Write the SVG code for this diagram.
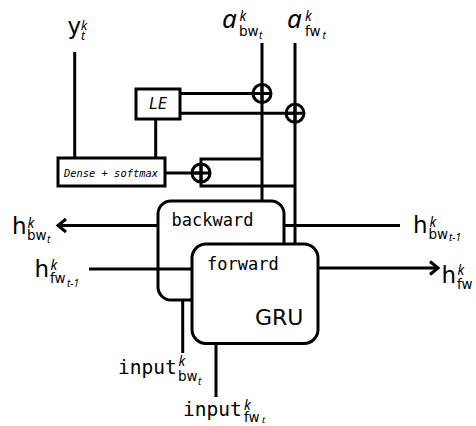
<svg xmlns="http://www.w3.org/2000/svg" xmlns:xlink="http://www.w3.org/1999/xlink" width="476" height="426" viewBox="0 0 476 426">
<style>
.box{fill:#fff;stroke:#000;stroke-width:3}
.ln{fill:none;stroke:#000;stroke-width:3}
.mono{font-family:"DejaVu Sans Mono","Liberation Mono",monospace;fill:#000}
.it{font-style:italic}
.sans{font-family:"DejaVu Sans","Liberation Sans",sans-serif;fill:#000}
.ita{font-family:"Noto Sans","DejaVu Sans",sans-serif;font-style:italic;fill:#000}
</style>
<defs>
<marker id="arr" markerUnits="userSpaceOnUse" markerWidth="20" markerHeight="20" viewBox="-10 -10 20 20" refX="0" refY="0" orient="auto" overflow="visible">
<path d="M-8,-6.5 L0,0 L-8,6.5" fill="none" stroke="#000" stroke-width="3"/>
</marker>
<g id="sum"><circle r="9" fill="none" stroke="#000" stroke-width="3"/><path d="M-9,0H9M0,-9V9" stroke="#000" stroke-width="3"/></g>
</defs>

<g id="backward">
<rect class="box" x="158" y="201" width="126" height="99" rx="13"/>
<text class="mono" x="171.5" y="226" font-size="17">backward</text>
</g>
<g id="forward">
<rect class="box" x="192" y="244" width="126" height="99.5" rx="14"/>
<text class="mono" x="207" y="270" font-size="17">forward</text>
<text class="sans" x="255" y="325" font-size="22">GRU</text>
</g>
<g id="LE">
<rect class="box" x="136" y="89" width="44" height="30"/>
<text class="mono it" x="158" y="108.5" font-size="15" text-anchor="middle">LE</text>
</g>
<g id="dense">
<rect class="box" x="58" y="158" width="107" height="28"/>
<text class="mono it" x="111" y="176.5" font-size="10.4" text-anchor="middle">Dense + softmax</text>
</g>

<g id="connectors">
<path class="ln" d="M74.7,52V158"/>
<path class="ln" d="M155.7,119V158"/>
<path class="ln" d="M262,43V201"/>
<path class="ln" d="M295,43V244"/>
<path class="ln" d="M180,93.5H262"/>
<path class="ln" d="M180,113.3H295"/>
<path class="ln" d="M165,173H201"/>
<path class="ln" d="M262,159H201V186H295"/>
<path class="ln" d="M158,225.5H58" marker-end="url(#arr)"/>
<path class="ln" d="M400,225.5H284"/>
<path class="ln" d="M89,269H192"/>
<path class="ln" d="M318,268H438" marker-end="url(#arr)"/>
<path class="ln" d="M182.7,300V353"/>
<path class="ln" d="M216,343.5V397"/>
</g>

<g id="sum-bw"><use xlink:href="#sum" href="#sum" x="262" y="93.5"/></g>
<g id="sum-fw"><use xlink:href="#sum" href="#sum" x="295" y="113.3"/></g>
<g id="sum-dense"><use xlink:href="#sum" href="#sum" x="201" y="173"/></g>

<g id="labels">
<text class="sans" font-size="12"><tspan x="67.5" y="33.5" font-size="23">y</tspan><tspan class="ita" x="81" y="29.5" font-size="12.5">k</tspan><tspan class="ita" x="81" y="40" font-size="12.5">t</tspan></text>

<text class="sans" font-size="13.5"><tspan class="ita" x="222" y="28" font-size="26">a</tspan><tspan class="ita" x="239.5" y="21">k</tspan><tspan x="239" y="36">bw</tspan><tspan class="ita" x="259" y="39" font-size="10">t</tspan></text>
<text class="sans" font-size="13.5"><tspan class="ita" x="287" y="28" font-size="26">a</tspan><tspan class="ita" x="305" y="21">k</tspan><tspan x="305" y="36">fw</tspan><tspan class="ita" x="322.5" y="39" font-size="10">t</tspan></text>

<text class="sans" font-size="13.5"><tspan x="12" y="234" font-size="23">h</tspan><tspan class="ita" x="27.5" y="227.5">k</tspan><tspan x="27" y="239.5">bw</tspan><tspan class="ita" x="47" y="243" font-size="10">t</tspan></text>
<text class="sans" font-size="13.5"><tspan x="34.5" y="277" font-size="23">h</tspan><tspan class="ita" x="50.5" y="270">k</tspan><tspan x="50" y="283">fw</tspan><tspan class="ita" x="67" y="286.5" font-size="10">t-1</tspan></text>
<text class="sans" font-size="13.5"><tspan x="413" y="233" font-size="23">h</tspan><tspan class="ita" x="429.5" y="227">k</tspan><tspan x="428.5" y="239">bw</tspan><tspan class="ita" x="449" y="241" font-size="10">t-1</tspan></text>
<text class="sans" font-size="13.5"><tspan x="441.5" y="283" font-size="23">h</tspan><tspan class="ita" x="457.5" y="275">k</tspan><tspan x="457" y="289">fw</tspan></text>

<text class="sans" font-size="13.5"><tspan class="mono" x="118" y="373.5" font-size="19.5">input</tspan><tspan class="ita" x="178.5" y="366">k</tspan><tspan x="178" y="381">bw</tspan><tspan class="ita" x="198" y="384.5" font-size="10">t</tspan></text>
<text class="sans" font-size="13.5"><tspan class="mono" x="183" y="416" font-size="19.5">input</tspan><tspan class="ita" x="244" y="410">k</tspan><tspan x="244" y="421.5">fw</tspan><tspan class="ita" x="262" y="423" font-size="9.5">t</tspan></text>
</g>
</svg>
